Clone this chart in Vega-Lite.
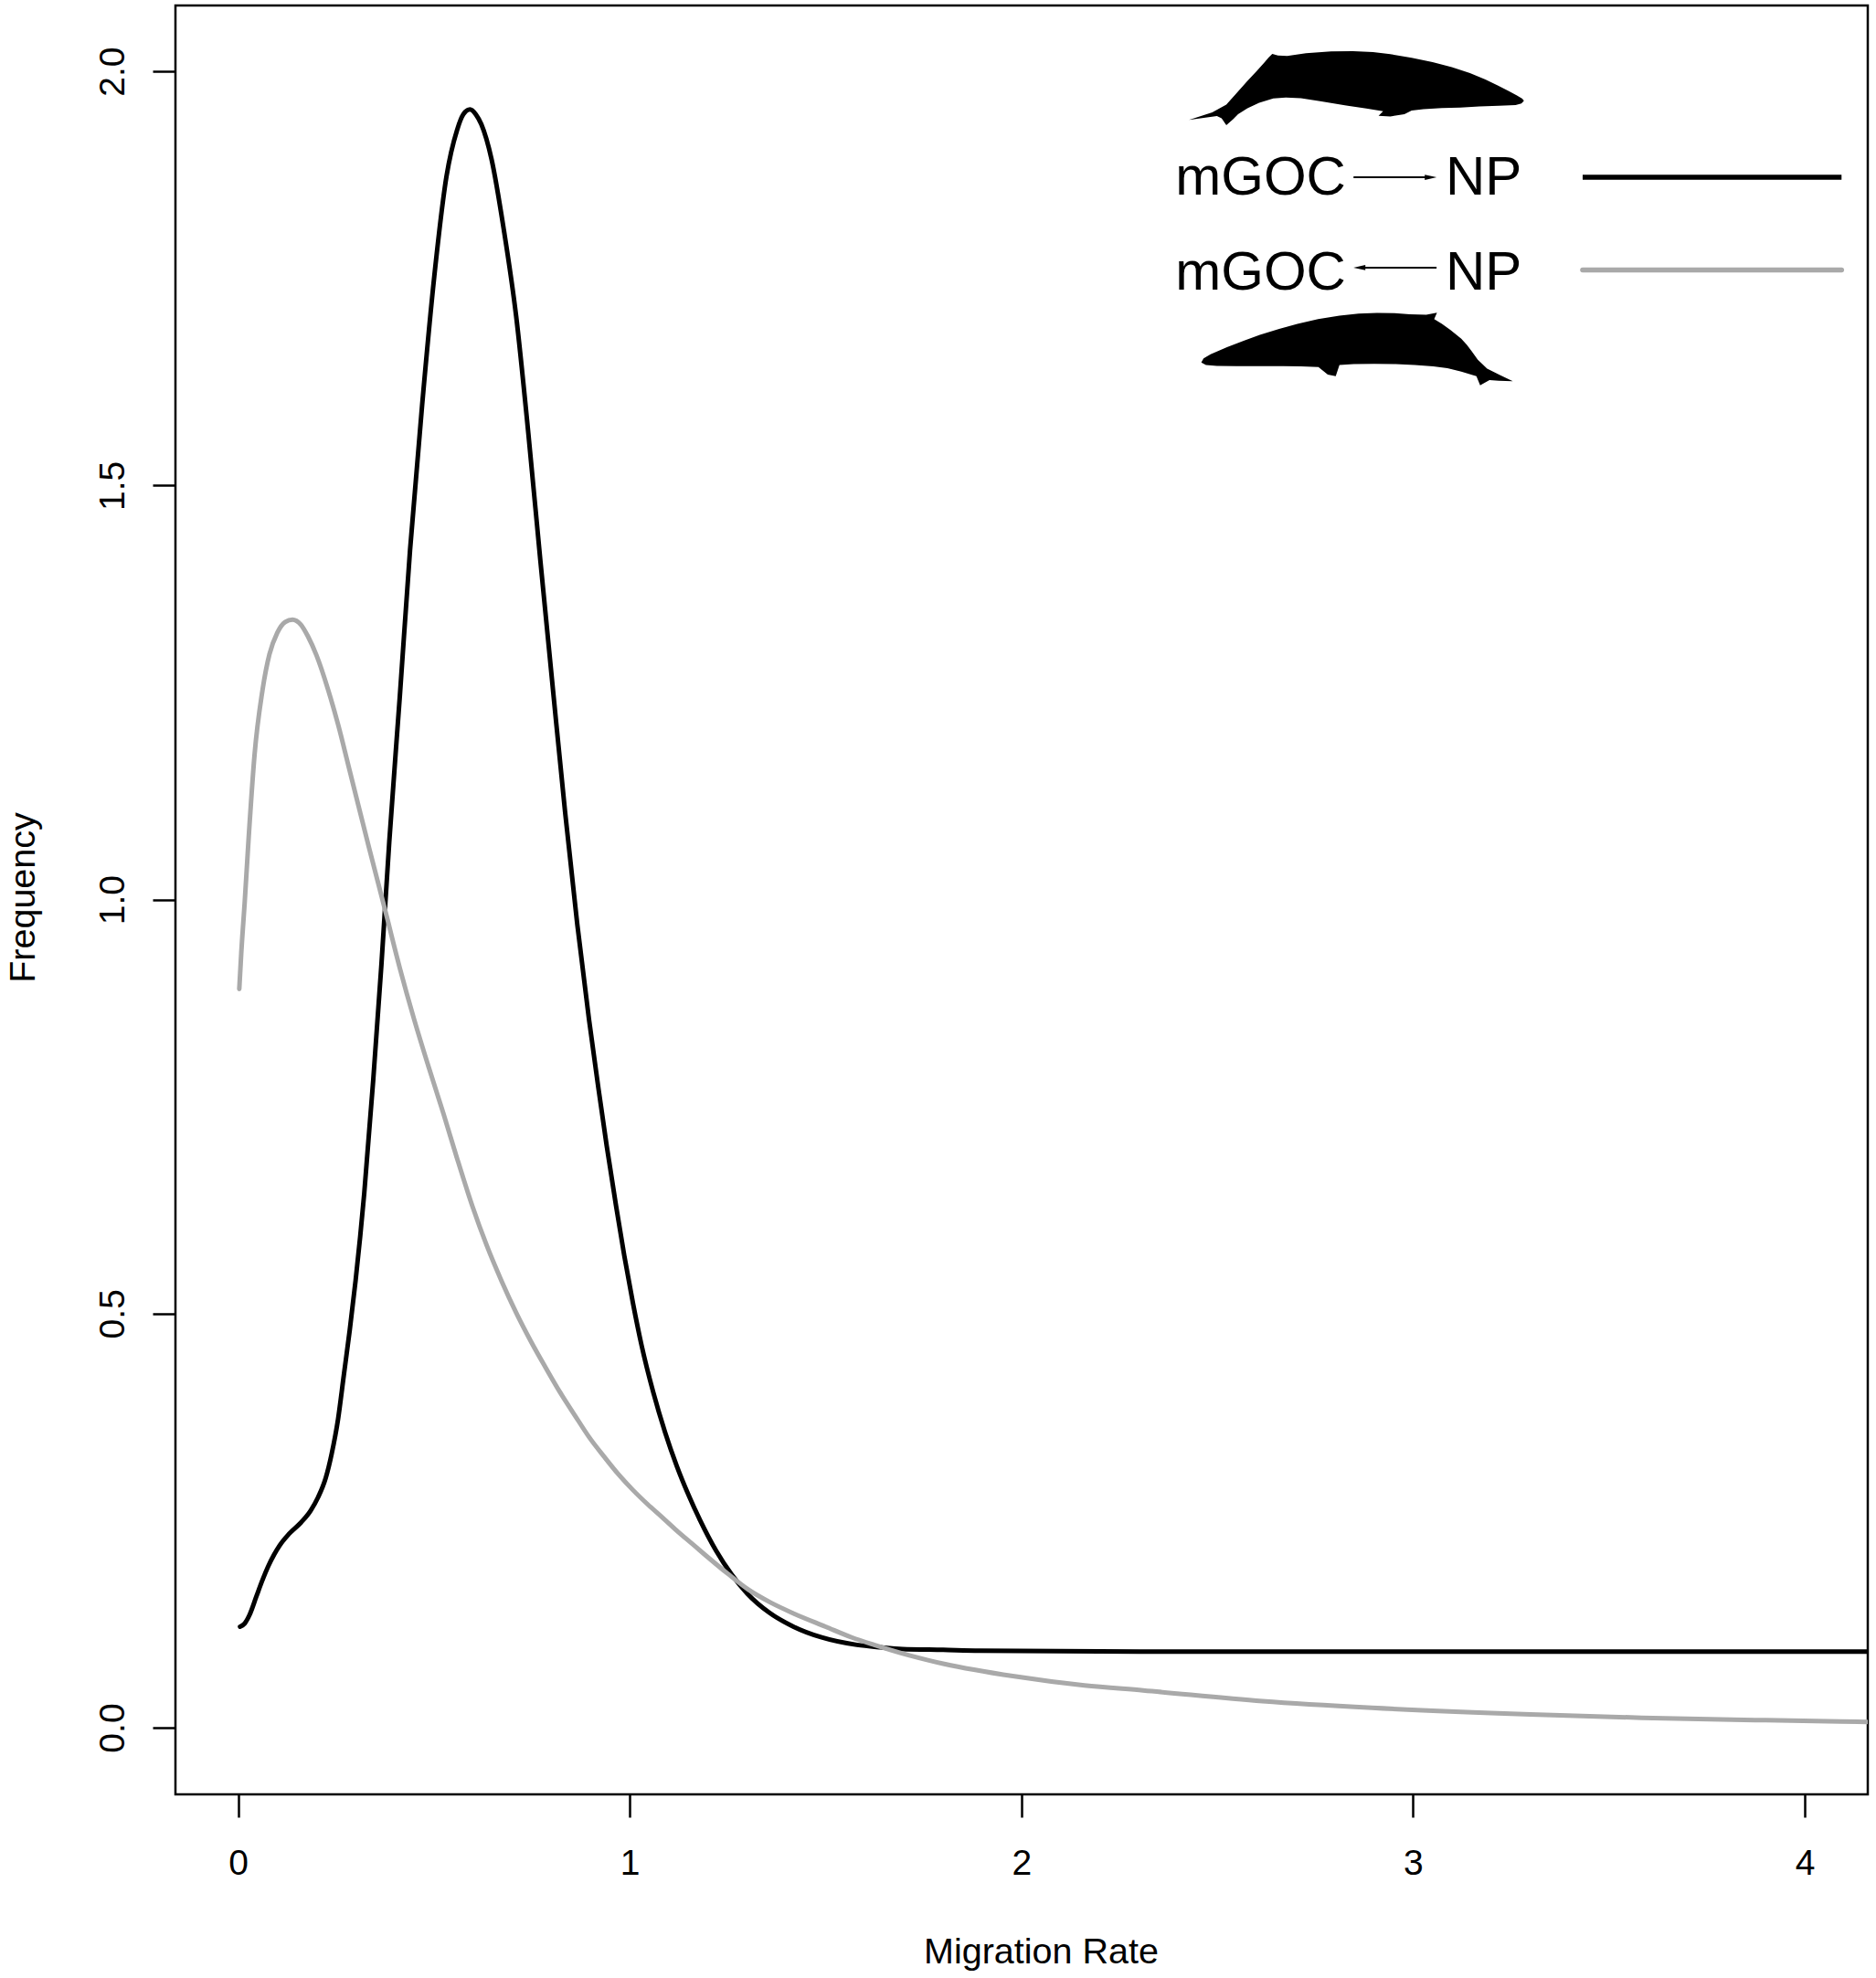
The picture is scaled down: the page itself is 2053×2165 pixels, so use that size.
{
  "$schema": "https://vega.github.io/schema/vega-lite/v6.json",
  "width": 1852,
  "height": 1958,
  "autosize": {"type": "none"},
  "padding": {"left": 192, "top": 6, "right": 9, "bottom": 201},
  "background": "white",
  "config": {"view": {"stroke": "black", "strokeWidth": 2.5}, "font": "Liberation Sans"},
  "datasets": {
    "curves": [
      {"series": "mGOC→NP", "rate": 0.005, "frequency": 0.122},
      {"series": "mGOC→NP", "rate": 0.017, "frequency": 0.126},
      {"series": "mGOC→NP", "rate": 0.029, "frequency": 0.136},
      {"series": "mGOC→NP", "rate": 0.047, "frequency": 0.159},
      {"series": "mGOC→NP", "rate": 0.062, "frequency": 0.178},
      {"series": "mGOC→NP", "rate": 0.077, "frequency": 0.195},
      {"series": "mGOC→NP", "rate": 0.092, "frequency": 0.209},
      {"series": "mGOC→NP", "rate": 0.106, "frequency": 0.220},
      {"series": "mGOC→NP", "rate": 0.130, "frequency": 0.234},
      {"series": "mGOC→NP", "rate": 0.161, "frequency": 0.248},
      {"series": "mGOC→NP", "rate": 0.185, "frequency": 0.262},
      {"series": "mGOC→NP", "rate": 0.204, "frequency": 0.278},
      {"series": "mGOC→NP", "rate": 0.224, "frequency": 0.302},
      {"series": "mGOC→NP", "rate": 0.239, "frequency": 0.331},
      {"series": "mGOC→NP", "rate": 0.255, "frequency": 0.372},
      {"series": "mGOC→NP", "rate": 0.270, "frequency": 0.426},
      {"series": "mGOC→NP", "rate": 0.285, "frequency": 0.480},
      {"series": "mGOC→NP", "rate": 0.300, "frequency": 0.540},
      {"series": "mGOC→NP", "rate": 0.322, "frequency": 0.645},
      {"series": "mGOC→NP", "rate": 0.345, "frequency": 0.782},
      {"series": "mGOC→NP", "rate": 0.366, "frequency": 0.922},
      {"series": "mGOC→NP", "rate": 0.386, "frequency": 1.070},
      {"series": "mGOC→NP", "rate": 0.413, "frequency": 1.246},
      {"series": "mGOC→NP", "rate": 0.439, "frequency": 1.422},
      {"series": "mGOC→NP", "rate": 0.470, "frequency": 1.598},
      {"series": "mGOC→NP", "rate": 0.501, "frequency": 1.753},
      {"series": "mGOC→NP", "rate": 0.532, "frequency": 1.873},
      {"series": "mGOC→NP", "rate": 0.559, "frequency": 1.929},
      {"series": "mGOC→NP", "rate": 0.575, "frequency": 1.948},
      {"series": "mGOC→NP", "rate": 0.592, "frequency": 1.954},
      {"series": "mGOC→NP", "rate": 0.607, "frequency": 1.948},
      {"series": "mGOC→NP", "rate": 0.621, "frequency": 1.936},
      {"series": "mGOC→NP", "rate": 0.647, "frequency": 1.894},
      {"series": "mGOC→NP", "rate": 0.678, "frequency": 1.810},
      {"series": "mGOC→NP", "rate": 0.710, "frequency": 1.704},
      {"series": "mGOC→NP", "rate": 0.741, "frequency": 1.563},
      {"series": "mGOC→NP", "rate": 0.772, "frequency": 1.408},
      {"series": "mGOC→NP", "rate": 0.804, "frequency": 1.253},
      {"series": "mGOC→NP", "rate": 0.835, "frequency": 1.105},
      {"series": "mGOC→NP", "rate": 0.866, "frequency": 0.970},
      {"series": "mGOC→NP", "rate": 0.896, "frequency": 0.855},
      {"series": "mGOC→NP", "rate": 0.920, "frequency": 0.772},
      {"series": "mGOC→NP", "rate": 0.941, "frequency": 0.703},
      {"series": "mGOC→NP", "rate": 0.965, "frequency": 0.630},
      {"series": "mGOC→NP", "rate": 0.986, "frequency": 0.570},
      {"series": "mGOC→NP", "rate": 1.008, "frequency": 0.513},
      {"series": "mGOC→NP", "rate": 1.030, "frequency": 0.462},
      {"series": "mGOC→NP", "rate": 1.060, "frequency": 0.405},
      {"series": "mGOC→NP", "rate": 1.090, "frequency": 0.357},
      {"series": "mGOC→NP", "rate": 1.120, "frequency": 0.316},
      {"series": "mGOC→NP", "rate": 1.150, "frequency": 0.281},
      {"series": "mGOC→NP", "rate": 1.180, "frequency": 0.250},
      {"series": "mGOC→NP", "rate": 1.220, "frequency": 0.214},
      {"series": "mGOC→NP", "rate": 1.260, "frequency": 0.185},
      {"series": "mGOC→NP", "rate": 1.300, "frequency": 0.162},
      {"series": "mGOC→NP", "rate": 1.356, "frequency": 0.139},
      {"series": "mGOC→NP", "rate": 1.418, "frequency": 0.122},
      {"series": "mGOC→NP", "rate": 1.490, "frequency": 0.109},
      {"series": "mGOC→NP", "rate": 1.580, "frequency": 0.100},
      {"series": "mGOC→NP", "rate": 1.641, "frequency": 0.097},
      {"series": "mGOC→NP", "rate": 1.696, "frequency": 0.095},
      {"series": "mGOC→NP", "rate": 1.800, "frequency": 0.094},
      {"series": "mGOC→NP", "rate": 1.893, "frequency": 0.093},
      {"series": "mGOC→NP", "rate": 2.311, "frequency": 0.092},
      {"series": "mGOC→NP", "rate": 3.000, "frequency": 0.092},
      {"series": "mGOC→NP", "rate": 4.161, "frequency": 0.092},
      {"series": "mGOC←NP", "rate": 0.003, "frequency": 0.892},
      {"series": "mGOC←NP", "rate": 0.008, "frequency": 0.935},
      {"series": "mGOC←NP", "rate": 0.017, "frequency": 0.998},
      {"series": "mGOC←NP", "rate": 0.027, "frequency": 1.075},
      {"series": "mGOC←NP", "rate": 0.042, "frequency": 1.175},
      {"series": "mGOC←NP", "rate": 0.063, "frequency": 1.255},
      {"series": "mGOC←NP", "rate": 0.080, "frequency": 1.296},
      {"series": "mGOC←NP", "rate": 0.100, "frequency": 1.322},
      {"series": "mGOC←NP", "rate": 0.120, "frequency": 1.335},
      {"series": "mGOC←NP", "rate": 0.139, "frequency": 1.338},
      {"series": "mGOC←NP", "rate": 0.160, "frequency": 1.332},
      {"series": "mGOC←NP", "rate": 0.178, "frequency": 1.318},
      {"series": "mGOC←NP", "rate": 0.200, "frequency": 1.295},
      {"series": "mGOC←NP", "rate": 0.230, "frequency": 1.253},
      {"series": "mGOC←NP", "rate": 0.256, "frequency": 1.210},
      {"series": "mGOC←NP", "rate": 0.282, "frequency": 1.161},
      {"series": "mGOC←NP", "rate": 0.308, "frequency": 1.112},
      {"series": "mGOC←NP", "rate": 0.334, "frequency": 1.063},
      {"series": "mGOC←NP", "rate": 0.376, "frequency": 0.986},
      {"series": "mGOC←NP", "rate": 0.413, "frequency": 0.917},
      {"series": "mGOC←NP", "rate": 0.449, "frequency": 0.856},
      {"series": "mGOC←NP", "rate": 0.487, "frequency": 0.797},
      {"series": "mGOC←NP", "rate": 0.524, "frequency": 0.742},
      {"series": "mGOC←NP", "rate": 0.560, "frequency": 0.686},
      {"series": "mGOC←NP", "rate": 0.598, "frequency": 0.630},
      {"series": "mGOC←NP", "rate": 0.635, "frequency": 0.582},
      {"series": "mGOC←NP", "rate": 0.673, "frequency": 0.539},
      {"series": "mGOC←NP", "rate": 0.710, "frequency": 0.501},
      {"series": "mGOC←NP", "rate": 0.747, "frequency": 0.467},
      {"series": "mGOC←NP", "rate": 0.785, "frequency": 0.435},
      {"series": "mGOC←NP", "rate": 0.822, "frequency": 0.405},
      {"series": "mGOC←NP", "rate": 0.860, "frequency": 0.377},
      {"series": "mGOC←NP", "rate": 0.896, "frequency": 0.351},
      {"series": "mGOC←NP", "rate": 0.935, "frequency": 0.327},
      {"series": "mGOC←NP", "rate": 0.971, "frequency": 0.306},
      {"series": "mGOC←NP", "rate": 1.008, "frequency": 0.287},
      {"series": "mGOC←NP", "rate": 1.045, "frequency": 0.270},
      {"series": "mGOC←NP", "rate": 1.083, "frequency": 0.254},
      {"series": "mGOC←NP", "rate": 1.120, "frequency": 0.238},
      {"series": "mGOC←NP", "rate": 1.157, "frequency": 0.223},
      {"series": "mGOC←NP", "rate": 1.194, "frequency": 0.208},
      {"series": "mGOC←NP", "rate": 1.250, "frequency": 0.186},
      {"series": "mGOC←NP", "rate": 1.302, "frequency": 0.167},
      {"series": "mGOC←NP", "rate": 1.360, "frequency": 0.151},
      {"series": "mGOC←NP", "rate": 1.418, "frequency": 0.138},
      {"series": "mGOC←NP", "rate": 1.500, "frequency": 0.122},
      {"series": "mGOC←NP", "rate": 1.567, "frequency": 0.109},
      {"series": "mGOC←NP", "rate": 1.624, "frequency": 0.100},
      {"series": "mGOC←NP", "rate": 1.716, "frequency": 0.087},
      {"series": "mGOC←NP", "rate": 1.803, "frequency": 0.077},
      {"series": "mGOC←NP", "rate": 1.982, "frequency": 0.062},
      {"series": "mGOC←NP", "rate": 2.161, "frequency": 0.051},
      {"series": "mGOC←NP", "rate": 2.311, "frequency": 0.045},
      {"series": "mGOC←NP", "rate": 2.616, "frequency": 0.032},
      {"series": "mGOC←NP", "rate": 2.895, "frequency": 0.024},
      {"series": "mGOC←NP", "rate": 3.300, "frequency": 0.016},
      {"series": "mGOC←NP", "rate": 3.584, "frequency": 0.012},
      {"series": "mGOC←NP", "rate": 3.900, "frequency": 0.009},
      {"series": "mGOC←NP", "rate": 4.161, "frequency": 0.007}
    ]
  },
  "encoding": {
    "x": {
      "type": "quantitative",
      "scale": {"domain": [-0.160, 4.161], "nice": false, "zero": false},
      "axis": {
        "values": [0, 1, 2, 3, 4], "format": "d", "title": "Migration Rate",
        "domain": false, "grid": false, "ticks": true, "tickSize": 25, "tickWidth": 2.5, "tickColor": "black",
        "labelFont": "Liberation Sans", "labelFontSize": 39, "labelColor": "black", "labelPadding": 31,
        "labelFlush": false, "labelOverlap": false,
        "titleFont": "Liberation Sans", "titleFontSize": 39.5, "titleFontWeight": "normal", "titleColor": "black",
        "titleX": 947, "titleY": 184, "titleBaseline": "alphabetic", "titleAlign": "center", "titleAnchor": null
      }
    },
    "y": {
      "type": "quantitative",
      "scale": {"domain": [-0.0805, 2.0795], "nice": false, "zero": false},
      "axis": {
        "values": [0, 0.5, 1, 1.5, 2], "format": ".1f", "title": "Frequency",
        "domain": false, "grid": false, "ticks": true, "tickSize": 25, "tickWidth": 2.5, "tickColor": "black",
        "labelFont": "Liberation Sans", "labelFontSize": 39, "labelColor": "black", "labelPadding": 24,
        "labelAngle": 270, "labelAlign": "center", "labelBaseline": "bottom",
        "labelFlush": false, "labelOverlap": false,
        "titleFont": "Liberation Sans", "titleFontSize": 39.5, "titleFontWeight": "normal", "titleColor": "black",
        "titleAngle": 270, "titleX": -155, "titleY": 976, "titleBaseline": "alphabetic", "titleAlign": "center", "titleAnchor": null
      }
    }
  },
  "layer": [
    {
      "data": {"name": "curves"},
      "transform": [{"filter": "datum.series === 'mGOC→NP'"}],
      "mark": {"type": "line", "interpolate": "monotone", "strokeWidth": 5, "strokeCap": "round", "strokeJoin": "round", "clip": true},
      "encoding": {
        "x": {"field": "rate", "type": "quantitative"},
        "y": {"field": "frequency", "type": "quantitative"},
        "color": {"field": "series", "type": "nominal", "scale": {"domain": ["mGOC→NP", "mGOC←NP"], "range": ["#000000", "#a9a9a9"]}, "legend": null}
      }
    },
    {
      "data": {"name": "curves"},
      "transform": [{"filter": "datum.series === 'mGOC←NP'"}],
      "mark": {"type": "line", "interpolate": "monotone", "strokeWidth": 5, "strokeCap": "round", "strokeJoin": "round", "clip": true},
      "encoding": {
        "x": {"field": "rate", "type": "quantitative"},
        "y": {"field": "frequency", "type": "quantitative"},
        "color": {"field": "series", "type": "nominal", "legend": null}
      }
    },
    {
      "data": {"values": [{}]},
      "mark": {"type": "point", "filled": true, "color": "black", "opacity": 1, "strokeWidth": 0, "size": 134689,
        "shape": "M -0.998 0.186 L -0.859 0.141 L -0.775 0.095 L -0.719 0.032 L -0.650 -0.045 L -0.590 -0.110 L -0.545 -0.160 L -0.523 -0.186 L -0.501 -0.208 L -0.467 -0.198 L -0.412 -0.195 L -0.300 -0.212 L -0.150 -0.222 L -0.020 -0.224 L 0.100 -0.218 L 0.203 -0.206 L 0.330 -0.185 L 0.455 -0.158 L 0.570 -0.128 L 0.678 -0.093 L 0.770 -0.055 L 0.846 -0.018 L 0.910 0.015 L 0.958 0.040 L 0.990 0.060 L 1.0 0.072 L 0.985 0.088 L 0.950 0.097 L 0.850 0.102 L 0.734 0.106 L 0.620 0.112 L 0.511 0.115 L 0.400 0.122 L 0.330 0.130 L 0.287 0.152 L 0.203 0.165 L 0.133 0.161 L 0.160 0.135 L 0.060 0.118 L -0.060 0.100 L -0.216 0.074 L -0.330 0.056 L -0.420 0.052 L -0.495 0.058 L -0.579 0.084 L -0.649 0.116 L -0.705 0.152 L -0.733 0.180 L -0.775 0.217 L -0.803 0.177 L -0.831 0.163 Z"},
      "encoding": {"x": {"datum": 2.855}, "y": {"datum": 1.979}}
    },
    {
      "data": {"values": [{}]},
      "mark": {"type": "point", "filled": true, "color": "black", "opacity": 1, "strokeWidth": 0, "size": 116281,
        "shape": "M -1.0 0.088 L -0.985 0.062 L -0.940 0.035 L -0.835 -0.010 L -0.724 -0.052 L -0.624 -0.090 L -0.500 -0.128 L -0.383 -0.160 L -0.250 -0.190 L -0.113 -0.212 L 0.010 -0.225 L 0.128 -0.230 L 0.240 -0.228 L 0.338 -0.222 L 0.444 -0.219 L 0.513 -0.232 L 0.495 -0.190 L 0.545 -0.160 L 0.600 -0.120 L 0.669 -0.065 L 0.705 -0.025 L 0.735 0.015 L 0.775 0.070 L 0.835 0.127 L 0.920 0.170 L 1.0 0.209 L 0.910 0.205 L 0.850 0.201 L 0.790 0.234 L 0.766 0.176 L 0.669 0.146 L 0.580 0.125 L 0.489 0.113 L 0.370 0.104 L 0.248 0.098 L 0.110 0.097 L -0.022 0.099 L -0.113 0.104 L -0.137 0.176 L -0.188 0.166 L -0.248 0.118 L -0.360 0.113 L -0.474 0.112 L -0.620 0.112 L -0.774 0.112 L -0.900 0.110 L -0.970 0.104 Z"},
      "encoding": {"x": {"datum": 2.857}, "y": {"datum": 1.665}}
    },
    {
      "data": {"values": [{}]},
      "mark": {"type": "text", "text": "mGOC", "align": "left", "baseline": "alphabetic", "font": "Liberation Sans", "fontSize": 60, "color": "black"},
      "encoding": {"x": {"datum": 2.393}, "y": {"datum": 1.851}}
    },
    {
      "data": {"values": [{}]},
      "mark": {"type": "text", "text": "NP", "align": "left", "baseline": "alphabetic", "font": "Liberation Sans", "fontSize": 60, "color": "black"},
      "encoding": {"x": {"datum": 3.083}, "y": {"datum": 1.851}}
    },
    {
      "data": {"values": [{}]},
      "mark": {"type": "text", "text": "mGOC", "align": "left", "baseline": "alphabetic", "font": "Liberation Sans", "fontSize": 60, "color": "black"},
      "encoding": {"x": {"datum": 2.393}, "y": {"datum": 1.736}}
    },
    {
      "data": {"values": [{}]},
      "mark": {"type": "text", "text": "NP", "align": "left", "baseline": "alphabetic", "font": "Liberation Sans", "fontSize": 60, "color": "black"},
      "encoding": {"x": {"datum": 3.083}, "y": {"datum": 1.736}}
    },
    {
      "data": {"values": [{}]},
      "mark": {"type": "rule", "strokeWidth": 2, "color": "black"},
      "encoding": {"x": {"datum": 2.848}, "x2": {"datum": 3.045}, "y": {"datum": 1.872}}
    },
    {
      "data": {"values": [{}]},
      "mark": {"type": "point", "filled": true, "color": "black", "opacity": 1, "strokeWidth": 0, "size": 170, "shape": "M -1 -0.45 L 1 0 L -1 0.45 Z"},
      "encoding": {"x": {"datum": 3.045}, "y": {"datum": 1.872}}
    },
    {
      "data": {"values": [{}]},
      "mark": {"type": "rule", "strokeWidth": 2, "color": "black"},
      "encoding": {"x": {"datum": 2.863}, "x2": {"datum": 3.060}, "y": {"datum": 1.763}}
    },
    {
      "data": {"values": [{}]},
      "mark": {"type": "point", "filled": true, "color": "black", "opacity": 1, "strokeWidth": 0, "size": 170, "shape": "M 1 -0.45 L -1 0 L 1 0.45 Z"},
      "encoding": {"x": {"datum": 2.863}, "y": {"datum": 1.763}}
    },
    {
      "data": {"values": [{}]},
      "mark": {"type": "rule", "strokeWidth": 5.5, "color": "black", "strokeCap": "butt"},
      "encoding": {"x": {"datum": 3.433}, "x2": {"datum": 4.094}, "y": {"datum": 1.872}}
    },
    {
      "data": {"values": [{}]},
      "mark": {"type": "rule", "strokeWidth": 5.5, "color": "#a9a9a9", "strokeCap": "round"},
      "encoding": {"x": {"datum": 3.433}, "x2": {"datum": 4.094}, "y": {"datum": 1.760}}
    }
  ]
}
